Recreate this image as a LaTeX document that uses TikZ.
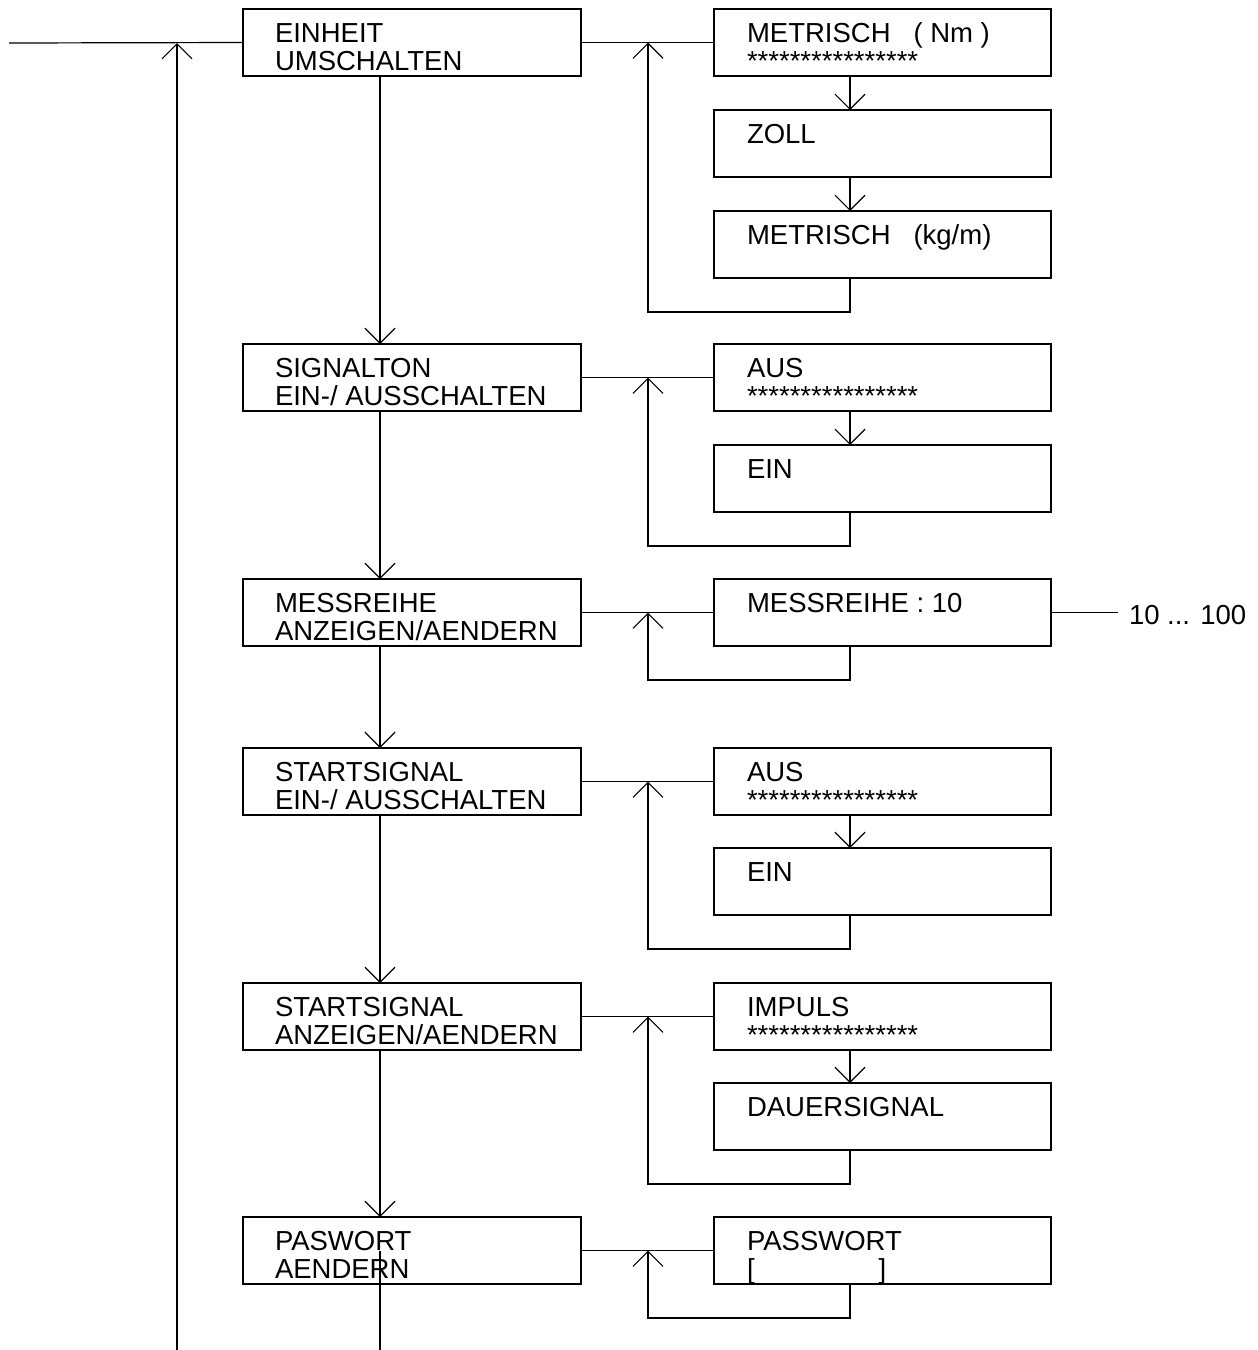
\documentclass[tikz,border=0pt]{standalone}
\usepackage{fontspec}
\setmainfont{Liberation Sans}
\usetikzlibrary{arrows.meta,calc}
\begin{document}
\begin{tikzpicture}[x=1pt,y=-1pt,
  lbox/.style={draw, line width=1.2pt, minimum width=338pt, minimum height=67pt, inner sep=0pt, outer sep=0pt, anchor=north west},
  rbox/.style={draw, line width=1.2pt, minimum width=337pt, minimum height=67pt, inner sep=0pt, outer sep=0pt, anchor=north west},
  txt/.style={anchor=base west, inner sep=0pt, outer sep=0pt, font=\fontsize{27.5}{27.5}\selectfont},
  ln/.style={line width=1.2pt},
  arr/.style={line width=1.2pt, -{Straight Barb[length=15pt,width=30pt]}}]
\fill[white] (0,0) rectangle (1258,1350);
\useasboundingbox (0,0) rectangle (1258,1350);

% reference coordinates
\coordinate (vx) at (380,0);
\coordinate (lp) at (648,0);
\coordinate (rx) at (850,0);

% left column boxes
\node[lbox] (L1) at (243,9) {};
\node[lbox] (L2) at (243,344) {};
\node[lbox] (L3) at (243,579) {};
\node[lbox] (L4) at (243,748) {};
\node[lbox] (L5) at (243,983) {};
\node[lbox] (L6) at (243,1217) {};

% right boxes
\node[rbox] (R11) at (714,9) {};
\node[rbox] (R12) at (714,110) {};
\node[rbox] (R13) at (714,211) {};
\node[rbox] (R21) at (714,344) {};
\node[rbox] (R22) at (714,445) {};
\node[rbox] (R31) at (714,579) {};
\node[rbox] (R41) at (714,748) {};
\node[rbox] (R42) at (714,848) {};
\node[rbox] (R51) at (714,983) {};
\node[rbox] (R52) at (714,1083) {};
\node[rbox] (R61) at (714,1217) {};

% left texts
\node[txt] (t1a) at ($(L1.north west)+(32,33.5)$) {EINHEIT};
\node[txt] (t1b) at ($(L1.north west)+(32,61)$) {UMSCHALTEN};
\node[txt] (t2a) at ($(L2.north west)+(32,33.5)$) {SIGNALTON};
\node[txt] (t2b) at ($(L2.north west)+(32,61)$) {EIN-/ AUSSCHALTEN};
\node[txt] (t3a) at ($(L3.north west)+(32,33.5)$) {MESSREIHE};
\node[txt] (t3b) at ($(L3.north west)+(32,61)$) {ANZEIGEN/AENDERN};
\node[txt] (t4a) at ($(L4.north west)+(32,33.5)$) {STARTSIGNAL};
\node[txt] (t4b) at ($(L4.north west)+(32,61)$) {EIN-/ AUSSCHALTEN};
\node[txt] (t5a) at ($(L5.north west)+(32,33.5)$) {STARTSIGNAL};
\node[txt] (t5b) at ($(L5.north west)+(32,61)$) {ANZEIGEN/AENDERN};
\node[txt] (t6a) at ($(L6.north west)+(32,33.5)$) {PASWORT};
\node[txt] (t6b) at ($(L6.north west)+(32,61)$) {AENDERN};

% right texts
\node[txt] (s11a) at ($(R11.north west)+(33,33.5)$) {METRISCH\ \ \ ( Nm )};
\node[txt] (s11b) at ($(R11.north west)+(33,61)$) {****************};
\node[txt] (s12a) at ($(R12.north west)+(33,33.5)$) {ZOLL};
\node[txt] (s13a) at ($(R13.north west)+(33,33.5)$) {METRISCH\ \ \ (kg/m)};
\node[txt] (s21a) at ($(R21.north west)+(33,33.5)$) {AUS};
\node[txt] (s21b) at ($(R21.north west)+(33,61)$) {****************};
\node[txt] (s22a) at ($(R22.north west)+(33,33.5)$) {EIN};
\node[txt] (s31a) at ($(R31.north west)+(33,33.5)$) {MESSREIHE : 10};
\node[txt] (s41a) at ($(R41.north west)+(33,33.5)$) {AUS};
\node[txt] (s41b) at ($(R41.north west)+(33,61)$) {****************};
\node[txt] (s42a) at ($(R42.north west)+(33,33.5)$) {EIN};
\node[txt] (s51a) at ($(R51.north west)+(33,33.5)$) {IMPULS};
\node[txt] (s51b) at ($(R51.north west)+(33,61)$) {****************};
\node[txt] (s52a) at ($(R52.north west)+(33,33.5)$) {DAUERSIGNAL};
\node[txt] (s61a) at ($(R61.north west)+(33,33.5)$) {PASSWORT};
\node[txt] (s61b) at ($(R61.north west)+(33,61)$) {[\hspace*{124pt}]};

% range label
\coordinate (m3) at (1118,612.5);
\node[txt] (rng) at (1129,624) {10 ... 100};
\draw[ln] (R31.east) -- (m3);

% main entry line and return
\coordinate (in) at (9,43);
\coordinate (j) at (177,43);
\coordinate (b) at (177,1350);
\draw[ln] (in) -- (L1.west);
\draw[arr] (b) -- (j);

% main vertical chain
\draw[arr] (L1.south -| vx) -- (L2.north -| vx);
\draw[arr] (L2.south -| vx) -- (L3.north -| vx);
\draw[arr] (L3.south -| vx) -- (L4.north -| vx);
\draw[arr] (L4.south -| vx) -- (L5.north -| vx);
\draw[arr] (L5.south -| vx) -- (L6.north -| vx);
\coordinate (p1) at (380,1251);
\coordinate (p2) at (380,1350);
\draw[ln] (p1) -- (p2);

% group 1
\draw[ln] (L1.east) -- (R11.west);
\draw[arr] (R11.south -| rx) -- (R12.north -| rx);
\draw[arr] (R12.south -| rx) -- (R13.north -| rx);
\draw[arr] (R13.south -| rx) -- ++(0,34) -| (L1.east -| lp);

% group 2
\draw[ln] (L2.east) -- (R21.west);
\draw[arr] (R21.south -| rx) -- (R22.north -| rx);
\draw[arr] (R22.south -| rx) -- ++(0,34) -| (L2.east -| lp);

% group 3
\draw[ln] (L3.east) -- (R31.west);
\draw[arr] (R31.south -| rx) -- ++(0,34) -| (L3.east -| lp);

% group 4
\draw[ln] (L4.east) -- (R41.west);
\draw[arr] (R41.south -| rx) -- (R42.north -| rx);
\draw[arr] (R42.south -| rx) -- ++(0,34) -| (L4.east -| lp);

% group 5
\draw[ln] (L5.east) -- (R51.west);
\draw[arr] (R51.south -| rx) -- (R52.north -| rx);
\draw[arr] (R52.south -| rx) -- ++(0,34) -| (L5.east -| lp);

% group 6
\draw[ln] (L6.east) -- (R61.west);
\draw[arr] (R61.south -| rx) -- ++(0,34) -| (L6.east -| lp);
\end{tikzpicture}
\end{document}
